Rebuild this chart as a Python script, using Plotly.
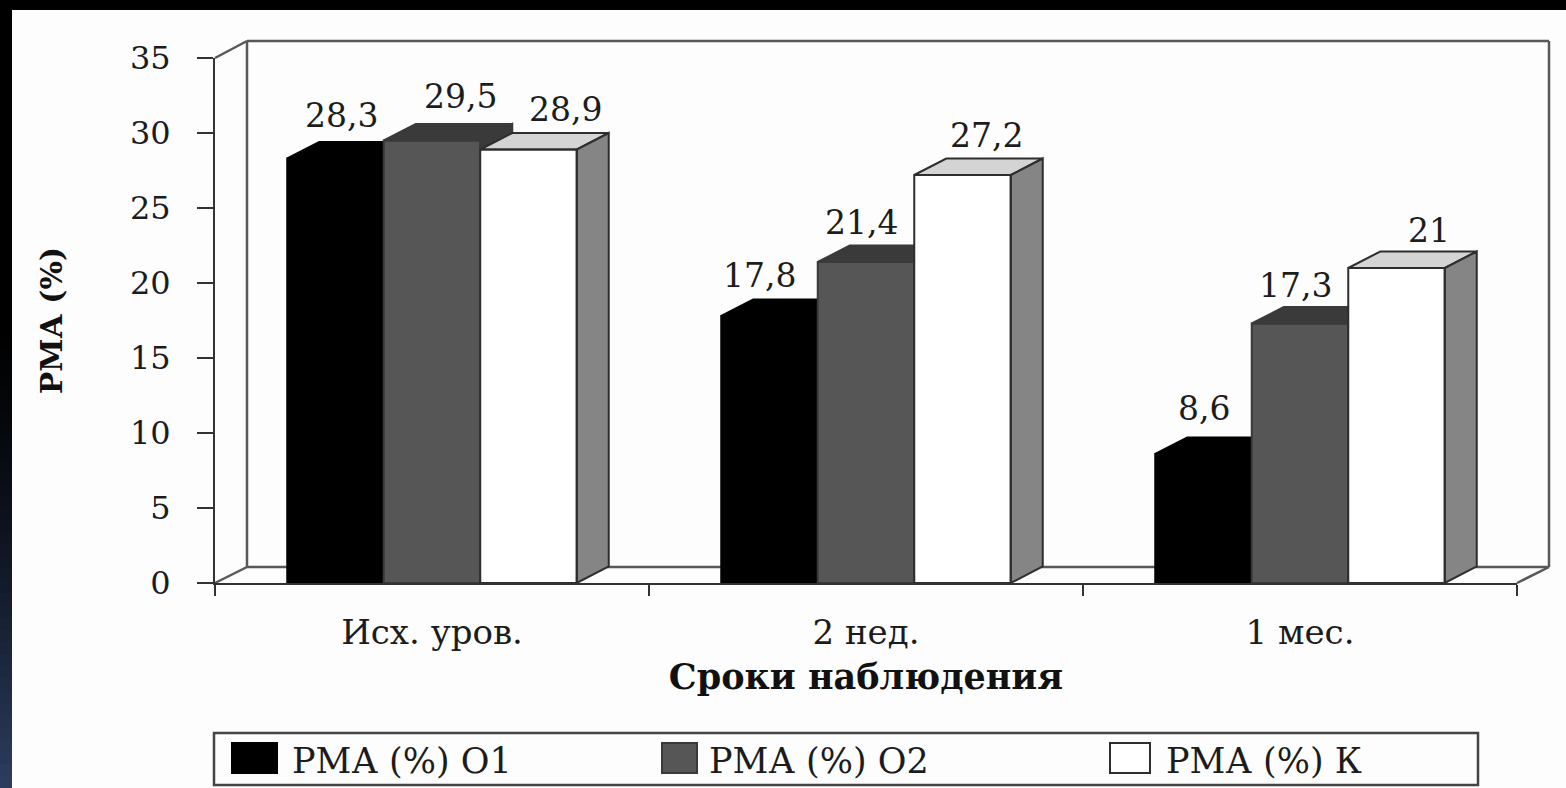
import plotly.graph_objects as go

CATEGORIES = ["Исх. уров.", "2 нед.", "1 мес."]
SERIES_NAMES = ["РМА (%) О1", "РМА (%) О2", "РМА (%) К"]
O1 = [28.3, 17.8, 8.6]
O2 = [29.5, 21.4, 17.3]
K = [28.9, 27.2, 21]
Y_TICKS = [0, 5, 10, 15, 20, 25, 30, 35]
X_TITLE = "Сроки наблюдения"
Y_TITLE = "РМА (%)"

W, H = 1566, 788
L, R, T, B = 215, 49, 58, 205
PX_X = (W - L - R) / 3
PX_Y = (H - T - B) / 35
DX = 32 / PX_X
DY = 16.5 / PX_Y
BAR_W = 96.5 / PX_X
SERIF = "DejaVu Serif"
INK = "#1c1c1c"
FONT_TICK = 32
FONT_CAT = 34
FONT_LABEL = 33

STYLES = [
    dict(front="#000000", top="#000000", side="#000000", edge="#000000", offset=-1),
    dict(front="#565656", top="#3a3a3a", side="#3a3a3a", edge="#3a3a3a", offset=0),
    dict(front="#ffffff", top="#d4d4d4", side="#858585", edge="#2e2e2e", offset=1),
]
LEGEND_W = [342, 382, 300]
# pixel nudges of the value labels relative to the bar top centre
NUDGE_X = [[6, -10, 0], [28, -5, -5], [37, 24, 32]]
NUDGE_Y = [[43, 41, 46], [44, 40, 38], [40, 40, 38]]

fig = go.Figure()


def polygons(items):
    xs, ys = [], []
    for item in items:
        xs += [p[0] for p in item] + [None]
        ys += [p[1] for p in item] + [None]
    return xs, ys


def px(xp):
    return (xp - L) / (W - L - R)


def py(yp):
    return (H - B - yp) / (H - T - B)


# transparent anchor for the main axes so they exist beneath the overlays
fig.add_trace(go.Scatter(x=[0, 1, 2], y=[0, 0, 0], mode="markers", marker=dict(opacity=0),
                         showlegend=False, hoverinfo="skip"))

for i, (name, vals, st) in enumerate(zip(SERIES_NAMES, [O1, O2, K], STYLES)):
    xa, ya = f"x{i + 2}", f"y{i + 2}"
    pos = [c + st["offset"] * BAR_W for c in range(len(CATEGORIES))]
    fig.add_trace(go.Bar(x=pos, y=vals, width=BAR_W, name=name, xaxis=xa, yaxis=ya,
                         marker=dict(color=st["front"], line=dict(width=0)),
                         legendwidth=LEGEND_W[i]))
    tops, sides, fronts = [], [], []
    for p, v in zip(pos, vals):
        a, b = p - BAR_W / 2, p + BAR_W / 2
        tops.append([(a, v), (a + DX, v + DY), (b + DX, v + DY), (b, v), (a, v)])
        sides.append([(b, 0), (b + DX, DY), (b + DX, v + DY), (b, v), (b, 0)])
        fronts.append([(a, 0), (a, v), (b, v), (b, 0), (a, 0)])
    for polys, col in ((tops, st["top"]), (sides, st["side"])):
        x, y = polygons(polys)
        fig.add_trace(go.Scatter(x=x, y=y, mode="lines", fill="toself", fillcolor=col,
                                 line=dict(color=st["edge"], width=2), xaxis=xa, yaxis=ya,
                                 cliponaxis=False, showlegend=False, hoverinfo="skip"))
    x, y = polygons(fronts)
    fig.add_trace(go.Scatter(x=x, y=y, mode="lines", line=dict(color=st["edge"], width=2),
                             xaxis=xa, yaxis=ya, cliponaxis=False, showlegend=False,
                             hoverinfo="skip"))

annotations = []
for i, (vals, st) in enumerate(zip([O1, O2, K], STYLES)):
    for c, v in enumerate(vals):
        annotations.append(dict(
            x=c + st["offset"] * BAR_W, y=v, xref="x", yref="y",
            text=f"{v:g}".replace(".", ","), showarrow=False,
            xshift=NUDGE_X[i][c], yshift=NUDGE_Y[i][c],
            font=dict(family=SERIF, size=FONT_LABEL, color=INK)))

# white sheet on a black page
shapes = [
    dict(type="rect", xref="paper", yref="paper", layer="below",
         x0=px(12), x1=px(W), y0=py(H), y1=py(10),
         fillcolor="#fdfdfd", line=dict(width=0)),
]

# back wall and floor, offset by the depth of the 3D box
wall_segments = [
    ((215, 58), (247, 41)), ((247, 41), (1549, 41)), ((1549, 41), (1549, 567)),
    ((247, 41), (247, 567)), ((247, 567), (1549, 567)),
    ((215, 583), (247, 567)), ((1517, 583), (1549, 567)),
]
for (a, b) in wall_segments:
    shapes.append(dict(type="line", xref="paper", yref="paper", layer="below",
                       x0=px(a[0]), y0=py(a[1]), x1=px(b[0]), y1=py(b[1]),
                       line=dict(color="#585858", width=2.5)))

# left strip fading from black to navy
STEPS = 40
for s in range(STEPS):
    y0 = 300 + (788 - 300) * s / STEPS
    y1 = 300 + (788 - 300) * (s + 1) / STEPS + 1
    f = ((s + 0.5) / STEPS) ** 1.5
    col = f"rgb({int(44 * f)},{int(62 * f)},{int(96 * f)})"
    shapes.append(dict(type="rect", xref="paper", yref="paper", layer="above",
                       x0=px(0), x1=px(12), y0=py(y1), y1=py(y0),
                       fillcolor=col, line=dict(width=0)))

# legend frame and enlarged swatches behind the legend's own keys
shapes.append(dict(type="rect", xref="paper", yref="paper", layer="above",
                   x0=px(214), x1=px(1478), y0=py(785), y1=py(733),
                   fillcolor="rgba(0,0,0,0)", line=dict(color="#444444", width=2.5)))
for (a, b), st in zip([(232, 277), (662, 697), (1110, 1150)], STYLES):
    shapes.append(dict(type="rect", xref="paper", yref="paper", layer="above",
                       x0=px(a), x1=px(b), y0=py(773), y1=py(743),
                       fillcolor=st["front"],
                       line=dict(color=st["edge"], width=2)))

axis_common = dict(range=[-0.5, 2.5], visible=False, fixedrange=True)
yaxis_common = dict(range=[0, 35], visible=False, fixedrange=True)
layout_axes = {}
for n in (2, 3, 4):
    layout_axes[f"xaxis{n}"] = dict(overlaying="x", anchor=f"y{n}", **axis_common)
    layout_axes[f"yaxis{n}"] = dict(overlaying="y", anchor=f"x{n}", **yaxis_common)

fig.update_layout(
    width=W, height=H,
    margin=dict(l=L, r=R, t=T, b=B, autoexpand=False),
    paper_bgcolor="#000000", plot_bgcolor="rgba(0,0,0,0)",
    shapes=shapes, annotations=annotations,
    showlegend=True,
    legend=dict(orientation="h", x=px(222), xanchor="left", y=py(730), yanchor="top",
                bgcolor="rgba(0,0,0,0)", borderwidth=0, itemwidth=60, traceorder="normal",
                font=dict(family=SERIF, size=35, color=INK), itemclick=False,
                itemdoubleclick=False),
    xaxis=dict(range=[-0.5, 2.5], tickmode="array",
               tickvals=list(range(len(CATEGORIES))), ticktext=CATEGORIES,
               ticks="", showgrid=False, zeroline=False, showline=True,
               linecolor="#333333", linewidth=2, ticklabelstandoff=18,
               tickfont=dict(family=SERIF, size=FONT_CAT, color=INK),
               minor=dict(tickmode="array", tickvals=[-0.5, 0.5, 1.5, 2.5], ticks="outside",
                          ticklen=11, tickwidth=2, tickcolor="#333333", showgrid=False),
               title=dict(text=X_TITLE, standoff=14,
                          font=dict(family=SERIF, size=35, color="#111111", weight="bold")),
               fixedrange=True),
    yaxis=dict(range=[0, 35], tickmode="array", tickvals=Y_TICKS, ticks="outside",
               ticklen=16, tickwidth=2, tickcolor="#333333", showgrid=False, zeroline=False,
               showline=True, linecolor="#333333", linewidth=2, ticklabelstandoff=20,
               tickfont=dict(family=SERIF, size=FONT_TICK, color=INK),
               title=dict(text=Y_TITLE, standoff=58,
                          font=dict(family=SERIF, size=30, color="#111111", weight="bold")),
               fixedrange=True),
    font=dict(family=SERIF),
    **layout_axes,
)

fig.write_html("out.html", include_plotlyjs=True, config=dict(displayModeBar=False),
               post_script="document.body.style.margin='0';document.body.style.overflow='hidden';document.body.style.background='#000';")
